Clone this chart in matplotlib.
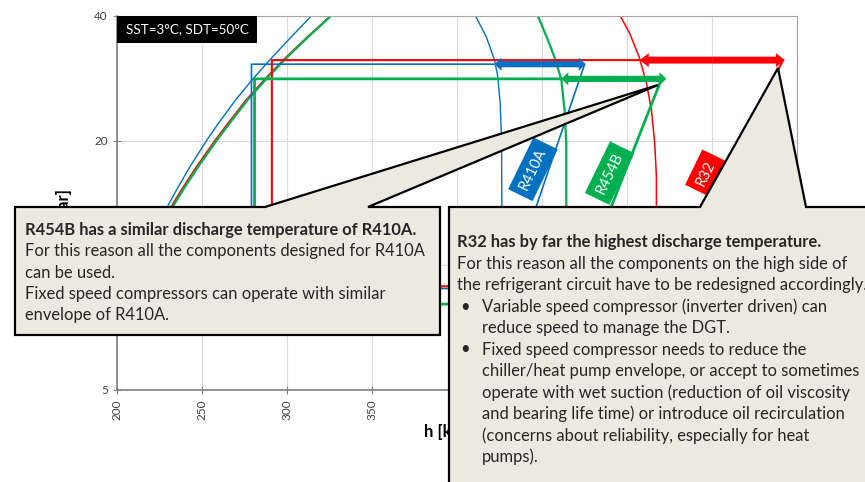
"""
p-h diagram: R410A vs R454B vs R32 cycle at SST=3C, SDT=50C
with two callout boxes on top of the chart
"""

import matplotlib.pyplot as plt
from matplotlib.patches import Polygon, FancyArrowPatch, Rectangle

plt.rcParams['font.family'] = ['Lato', 'DejaVu Sans']

# saturation curves: enthalpy [kJ/kg] vs pressure [bar]
liq_p = [40.0, 35.65, 31.9, 28.3, 25.1, 21.8, 19.96, 17.3, 15.2, 13.85, 12.0]
r410a_liq_h = [314.3, 302.6, 291.6, 280.3, 269.8, 258.9, 252.5, 242.9, 235.0, 229.6, 222.0]
r454b_liq_h = [325.8, 312.6, 300.4, 288.2, 276.9, 265.4, 258.4, 247.7, 238.8, 232.8, 226.0]
r32_liq_h = [325.5, 312.1, 299.7, 287.4, 276.0, 264.4, 257.4, 246.7, 237.8, 231.8, 225.0]

r410a_vap_h = [410.9, 417.2, 422.1, 424.0, 425.4, 426.2, 426.4, 426.0]
r410a_vap_p = [40.0, 35.65, 31.3, 28.55, 24.6, 20.1, 13.85, 11.0]
r454b_vap_h = [447.6, 453.5, 458.0, 461.4, 463.3, 464.3, 464.3, 464.0]
r454b_vap_p = [40.0, 35.0, 31.3, 28.0, 23.7, 19.7, 13.85, 11.0]
r32_vap_h = [496.1, 501.6, 507.1, 511.5, 514.4, 516.3, 517.3, 517.3, 517.0]
r32_vap_p = [40.0, 36.3, 31.9, 27.5, 23.7, 19.7, 16.4, 13.85, 11.0]

# cycle points: expansion h, suction h, discharge h, low / high pressure
refrigerants = ['R410A', 'R454B', 'R32']
h_exp = [279.1, 280.9, 291.1]
h_suc = [430.2, 468.2, 525.0]
h_dis = [475.1, 520.3, 591.8]
p_low = [8.79, 8.06, 8.9]
p_high = [30.6, 28.2, 31.3]

# discharge superheat arrows (from saturated vapour to discharge)
arrow_h0 = [422.1, 461.4, 507.5]
arrow_h1 = [475.7, 523.2, 592.9]

# label boxes on the curves
label_h = [444.7, 489.8, 546.4]
label_p = [17.06, 16.7, 16.7]

colors = ['#0070C0', '#00B050', '#FF0000']

W, H = 865, 482


def px(x, y):
    # pixel position -> figure fraction
    return (x / W, 1 - y / H)


fig = plt.figure(figsize=(W / 100, H / 100), dpi=100)
ax = fig.add_axes([117 / W, 1 - 390 / H, 680 / W, 374 / H])

ax.set_yscale('log')
ax.set_xlim(200, 600)
ax.set_ylim(5, 40)
ax.set_xticks(range(200, 601, 50))
ax.set_yticks([5, 10, 20, 40])
ax.set_yticklabels(['5', '10', '20', '40'])
ax.minorticks_off()
ax.grid(True, color='#D9D9D9', lw=0.8)
ax.set_axisbelow(True)
for s in ['top', 'right']:
    ax.spines[s].set_color('#A6A6A6')
for s in ['left', 'bottom']:
    ax.spines[s].set_color('#7F7F7F')
    ax.spines[s].set_linewidth(1.2)
ax.tick_params(direction='inout', length=6, color='#7F7F7F',
               labelsize=8.5, labelcolor='#404040')
ax.tick_params(axis='x', labelrotation=90)

ax.set_xlabel('h [kJ/kg]', fontsize=12, fontweight='bold')
ax.xaxis.set_label_coords(0.5, -0.09)
ax.set_ylabel('p [bar]', fontsize=12, fontweight='bold')
ax.yaxis.set_label_coords(-0.066, 0.472)

# saturation domes
ax.plot(r410a_liq_h, liq_p, color=colors[0], lw=1.0)
ax.plot(r410a_vap_h, r410a_vap_p, color=colors[0], lw=1.0)
ax.plot(r32_liq_h, liq_p, color=colors[2], lw=1.1)
ax.plot(r32_vap_h, r32_vap_p, color=colors[2], lw=1.1)
ax.plot(r454b_liq_h, liq_p, color=colors[1], lw=1.6)
ax.plot(r454b_vap_h, r454b_vap_p, color=colors[1], lw=1.6)

# cycles
cycle_lw = [1.2, 2.0, 1.5]
for i in [0, 2, 1]:
    hs = [h_exp[i], h_exp[i], h_dis[i], h_suc[i], h_exp[i]]
    ps = [p_low[i], p_high[i], p_high[i], p_low[i], p_low[i]]
    ax.plot(hs, ps, color=colors[i], lw=cycle_lw[i])

# double arrows, drawn as two filled half-arrows from the middle
tail_w = [0.45, 0.45, 0.5]
head_w = [0.95, 0.95, 1.0]
head_l = [0.5, 0.5, 0.65]
for i in range(3):
    mid = (arrow_h0[i] + arrow_h1[i]) / 2
    for end in [arrow_h0[i], arrow_h1[i]]:
        style = 'simple,head_length=%.2f,head_width=%.2f,tail_width=%.2f' % (
            head_l[i], head_w[i], tail_w[i])
        arr = FancyArrowPatch((mid, p_high[i]), (end, p_high[i]),
                              arrowstyle=style, mutation_scale=10, lw=0,
                              color=colors[i], shrinkA=0, shrinkB=0, zorder=5)
        ax.add_patch(arr)

for i, name in enumerate(refrigerants):
    ax.text(label_h[i], label_p[i], name, rotation=64, rotation_mode='anchor',
            ha='center', va='center', color='white', fontsize=10.5,
            bbox=dict(boxstyle='square,pad=0.45', fc=colors[i], ec='none'),
            zorder=6)

ax.add_patch(Rectangle((0, 1 - 27 / 374), 140 / 680, 27 / 374,
                       transform=ax.transAxes, fc='black', ec='none', zorder=6))
ax.text(70 / 680, 1 - 13.5 / 374, 'SST=3°C, SDT=50°C', transform=ax.transAxes,
        ha='center', va='center', color='white', fontsize=9.6, zorder=7)

# callout boxes
box_fc = '#ECEAE0'
left_pts = [(15, 207), (265, 207), (658, 85), (368, 207), (440, 207),
            (440, 335), (15, 335)]
right_pts = [(449, 207), (700, 207), (778, 68), (806, 207), (880, 207),
             (880, 500), (449, 500)]
for pts in [left_pts, right_pts]:
    poly = Polygon([px(x, y) for x, y in pts], closed=True, fc=box_fc,
                   ec='black', lw=1.6, transform=fig.transFigure,
                   joinstyle='miter')
    fig.add_artist(poly)

txt_color = '#262626'
fs = 11.9
left_lines = [
    ('R454B has a similar discharge temperature of R410A.', True),
    ('For this reason all the components designed for R410A', False),
    ('can be used.', False),
    ('Fixed speed compressors can operate with similar', False),
    ('envelope of R410A.', False),
]
for k, (line, bold) in enumerate(left_lines):
    fig.text(*px(25, 230 + k * 21.3), line, ha='left', va='center',
             fontsize=fs, color=txt_color,
             fontweight='bold' if bold else 'normal', zorder=4)

right_lines = [
    ('R32 has by far the highest discharge temperature.', True, False, 0),
    ('For this reason all the components on the high side of', False, False, 0),
    ('the refrigerant circuit have to be redesigned accordingly.', False, False, 0),
    ('Variable speed compressor (inverter driven) can', False, True, 1),
    ('reduce speed to manage the DGT.', False, False, 1),
    ('Fixed speed compressor needs to reduce the', False, True, 1),
    ('chiller/heat pump envelope, or accept to sometimes', False, False, 1),
    ('operate with wet suction (reduction of oil viscosity', False, False, 1),
    ('and bearing life time) or introduce oil recirculation', False, False, 1),
    ('(concerns about reliability, especially for heat', False, False, 1),
    ('pumps).', False, False, 1),
]
for k, (line, bold, bullet, indent) in enumerate(right_lines):
    y = 242 + k * 21.5
    x = 482 if indent else 457
    fig.text(*px(x, y), line, ha='left', va='center', fontsize=fs,
             color=txt_color, fontweight='bold' if bold else 'normal',
             zorder=4)
    if bullet:
        fig.text(*px(460, y), '•', ha='left', va='center', fontsize=fs,
                 color=txt_color, zorder=4)

fig.savefig('out.png', dpi=100)
